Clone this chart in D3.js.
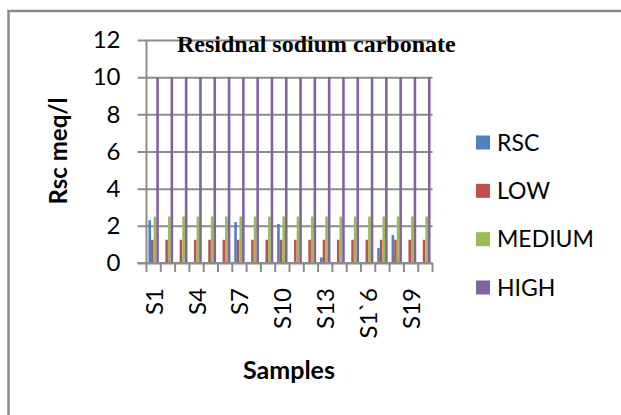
<!DOCTYPE html>
<html>
<head>
<meta charset="utf-8">
<script src="https://cdn.jsdelivr.net/npm/d3@7"></script>
<style>
  html, body { margin: 0; padding: 0; background: #fff; }
  svg { display: block; }
</style>
</head>
<body>
<svg id="chart" width="621" height="415"></svg>
<script>
// ---- data ----
const categories = ["S1","S2","S3","S4","S5","S6","S7","S8","S9","S10",
                    "S11","S12","S13","S14","S15","S1`6","S17","S18","S19","S20"];
const seriesNames = ["RSC", "LOW", "MEDIUM", "HIGH"];
const rscValues    = [2.3,0,0,0,0,0,2.2,0,0,2.1,0,0,0.3,0,0,0,0.8,1.5,0,0];
const lowValues    = [1.25,1.25,1.25,1.25,1.25,1.25,1.25,1.25,1.25,1.25,1.25,1.25,1.25,1.25,1.25,1.25,1.25,1.25,1.25,1.25];
const mediumValues = [2.5,2.5,2.5,2.5,2.5,2.5,2.5,2.5,2.5,2.5,2.5,2.5,2.5,2.5,2.5,2.5,2.5,2.5,2.5,2.5];
const highValues   = [10,10,10,10,10,10,10,10,10,10,10,10,10,10,10,10,10,10,10,10];
const yTicks = [0, 2, 4, 6, 8, 10, 12];
const colors = ["#4F81BD", "#C0504D", "#9BBB59", "#8064A2"];
const title = "Residnal sodium carbonate";
const yTitle = "Rsc meq/l";
const xTitle = "Samples";

const seriesValues = [rscValues, lowValues, mediumValues, highValues];
const table = categories.map((c, i) => ({
  cat: c,
  vals: seriesNames.map((s, k) => ({ key: s, value: seriesValues[k][i] }))
}));

// ---- layout ----
const svg = d3.select("#chart");
const pLeft = 146.5, pRight = 432.5, pTop = 40, pBottom = 263;
const sansFont = "Lato, 'Noto Sans', sans-serif";
const gridColor = "#8c8c8c";

// outer frame
svg.append("rect")
  .attr("x", 8.5).attr("y", 11).attr("width", 640).attr("height", 430)
  .attr("fill", "none").attr("stroke", "#8a8a8a").attr("stroke-width", 2.5);

const x0 = d3.scaleBand().domain(categories).range([pLeft, pRight])
  .paddingInner(1.5 / 5.5).paddingOuter(0.75 / 5.5);
const x1 = d3.scaleBand().domain(seriesNames).range([0, x0.bandwidth()]);
const y = d3.scaleLinear().domain([0, 12]).range([pBottom, pTop]);

// gridlines (extend as outside ticks)
const yAxis = d3.axisLeft(y).tickValues(yTicks).tickSize(-(pRight - pLeft)).tickSizeOuter(0)
  .tickFormat(d => d).tickPadding(26);
const gy = svg.append("g").attr("transform", `translate(${pLeft},0)`).call(yAxis);
gy.select(".domain").remove();
gy.selectAll(".tick line")
  .attr("x1", -9).attr("x2", pRight - pLeft)
  .attr("stroke", gridColor).attr("stroke-width", 2);
gy.selectAll(".tick text")
  .attr("x", -26)
  .style("font-family", sansFont).style("font-size", "24px").attr("fill", "#000");

// bars
const groups = svg.append("g").selectAll("g").data(table).join("g")
  .attr("transform", d => `translate(${x0(d.cat)},0)`);
groups.selectAll("rect").data(d => d.vals).join("rect")
  .attr("x", d => x1(d.key))
  .attr("width", x1.bandwidth())
  .attr("y", d => y(d.value))
  .attr("height", d => pBottom - y(d.value))
  .attr("fill", (d, i) => colors[i]);

// y axis line
svg.append("line")
  .attr("x1", pLeft).attr("x2", pLeft).attr("y1", pTop).attr("y2", pBottom)
  .attr("stroke", gridColor).attr("stroke-width", 2);

// x axis with boundary ticks
const boundaries = d3.range(categories.length + 1);
const xb = d3.scaleLinear().domain([0, categories.length]).range([pLeft, pRight]);
svg.append("line")
  .attr("x1", pLeft - 9).attr("x2", pRight).attr("y1", pBottom).attr("y2", pBottom)
  .attr("stroke", gridColor).attr("stroke-width", 2);
svg.append("g").selectAll("line").data(boundaries).join("line")
  .attr("x1", d => xb(d)).attr("x2", d => xb(d))
  .attr("y1", pBottom).attr("y2", pBottom + 9)
  .attr("stroke", gridColor).attr("stroke-width", 2);

// x labels every 3rd category
svg.append("g").selectAll("text")
  .data(categories.filter((c, i) => i % 3 === 0)).join("text")
  .attr("transform", d => `translate(${x0(d) + x0.bandwidth() / 2 + 9},${288}) rotate(-90)`)
  .attr("text-anchor", "end")
  .style("font-family", sansFont).style("font-size", "24px").attr("fill", "#000")
  .text(d => d);

// title
svg.append("text")
  .attr("x", 177).attr("y", 52)
  .style("font-family", "'Liberation Serif', 'Times New Roman', serif")
  .style("font-weight", "bold").style("font-size", "24px")
  .text(title);

// axis titles
svg.append("text")
  .attr("transform", "translate(67,151) rotate(-90)")
  .attr("text-anchor", "middle")
  .style("font-family", sansFont).style("font-weight", "bold").style("font-size", "24px")
  .text(yTitle);
svg.append("text")
  .attr("x", 289).attr("y", 379).attr("text-anchor", "middle")
  .style("font-family", sansFont).style("font-weight", "bold").style("font-size", "25px")
  .text(xTitle);

// legend
const legendY = d3.scalePoint().domain(seriesNames).range([142.5, 287.5]);
const lg = svg.append("g").selectAll("g").data(seriesNames).join("g")
  .attr("transform", d => `translate(476,${legendY(d)})`);
lg.append("rect").attr("x", 0).attr("y", -7).attr("width", 14).attr("height", 14)
  .attr("fill", (d, i) => colors[i]);
lg.append("text").attr("x", 21).attr("y", 8)
  .style("font-family", sansFont).style("font-size", "23px").attr("fill", "#000")
  .text(d => d);
</script>
</body>
</html>
